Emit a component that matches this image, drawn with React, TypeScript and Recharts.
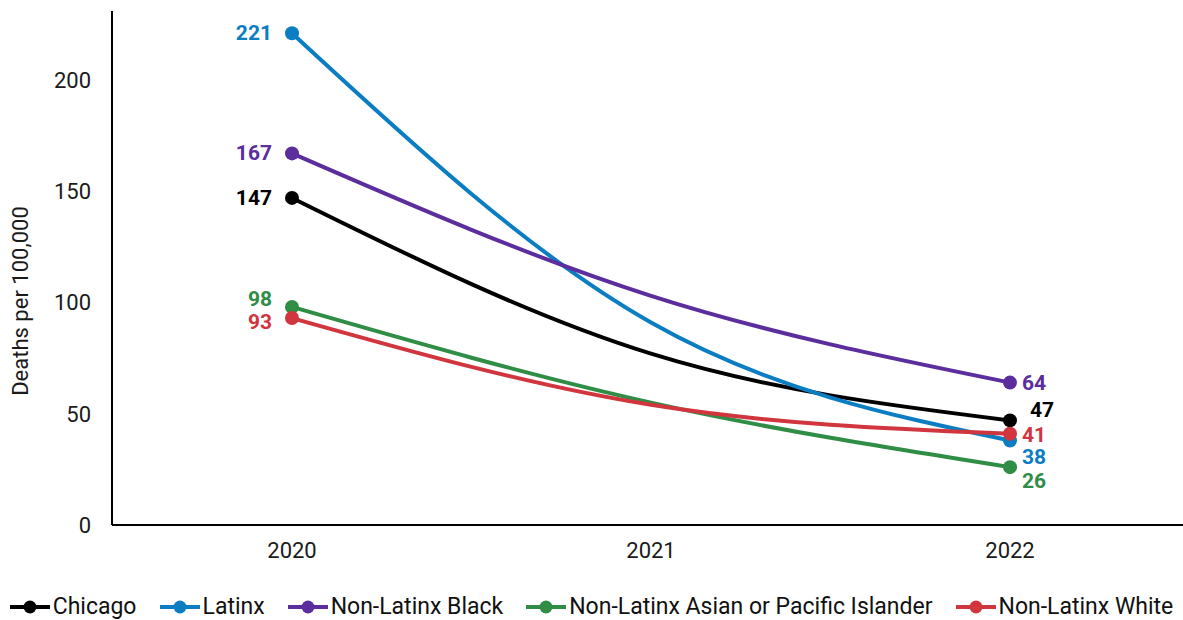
import { LineChart, Line, XAxis, YAxis, Legend, LabelList } from 'recharts'

// values (2021 estimated from the curves)
const years = ['2020', '2021', '2022']
const chicago = [147, 77, 47]
const latinx = [221, 91, 38]
const nlBlack = [167, 103, 64]
const nlAsian = [98, 55, 26]
const nlWhite = [93, 54, 41]

const yTicks = [0, 50, 100, 150, 200]

const FONT = 'Roboto, "Noto Sans", sans-serif'

const series = [
  { key: 'chicago', name: 'Chicago', color: '#000000', values: chicago, dyL: 0, dyR: -10, dxR: 20 },
  { key: 'latinx', name: 'Latinx', color: '#0b7dc2', values: latinx, dyL: 0, dyR: 17, dxR: 12 },
  { key: 'black', name: 'Non-Latinx Black', color: '#5b2d9d', values: nlBlack, dyL: 0, dyR: 0, dxR: 12 },
  { key: 'asian', name: 'Non-Latinx Asian or Pacific Islander', color: '#2f8d45', values: nlAsian, dyL: -8, dyR: 14, dxR: 12 },
  { key: 'white', name: 'Non-Latinx White', color: '#d1363f', values: nlWhite, dyL: 4, dyR: 1, dxR: 12 },
]

const data = years.map((year, i) => {
  const row: Record<string, string | number> = { year }
  series.forEach(s => { row[s.key] = s.values[i] })
  return row
})

function makeLabel(color: string, dyL: number, dyR: number, dxR: number) {
  // eslint-disable-next-line @typescript-eslint/no-explicit-any
  return (props: any) => {
    const { x, y, value, index } = props
    if (index === 1) return null
    const left = index === 0
    return (
      <text
        x={left ? x - 20 : x + dxR}
        y={y + (left ? dyL : dyR)}
        textAnchor={left ? 'end' : 'start'}
        dominantBaseline="central"
        fill={color}
        fontSize={21}
        fontWeight={700}
        fontFamily={FONT}
      >
        {value}
      </text>
    )
  }
}

function LegendRow() {
  return (
    <div style={{ display: 'flex', justifyContent: 'center', gap: 23, fontFamily: FONT, fontSize: 23, color: '#111' }}>
      {series.map(s => (
        <div key={s.key} style={{ display: 'flex', alignItems: 'center' }}>
          <svg width={40} height={16} style={{ marginRight: 3 }}>
            <line x1={0} y1={8} x2={40} y2={8} stroke={s.color} strokeWidth={4} />
            <circle cx={20} cy={8} r={6.5} fill={s.color} />
          </svg>
          <span>{s.name}</span>
        </div>
      ))}
    </div>
  )
}

export default function App() {
  return (
    <div style={{ position: 'absolute', left: 0, top: 0, background: '#fff' }}>
      <LineChart width={1183} height={620} data={data} margin={{ top: 11, right: 0, left: 0, bottom: 0 }}>
        <XAxis
          dataKey="year"
          padding={{ left: 180, right: 173 }}
          tick={{ fill: '#1a1a1a', fontSize: 22, fontFamily: FONT }}
          tickLine={false}
          tickSize={0}
          tickMargin={17}
          axisLine={{ stroke: '#000', strokeWidth: 2 }}
          height={68}
        />
        <YAxis
          domain={[0, 231]}
          ticks={yTicks}
          width={112}
          tick={{ fill: '#1a1a1a', fontSize: 22, fontFamily: FONT }}
          tickLine={false}
          tickSize={0}
          tickMargin={21}
          axisLine={{ stroke: '#000', strokeWidth: 2 }}
          label={{
            value: 'Deaths per 100,000',
            angle: -90,
            position: 'insideLeft',
            offset: 0,
            dx: 20,
            dy: 33,
            style: { textAnchor: 'middle', fill: '#1a1a1a', fontSize: 22, fontFamily: FONT },
          }}
        />
        <Legend verticalAlign="bottom" content={<LegendRow />} wrapperStyle={{ paddingBottom: 0 }} />
        {series.map(s => (
          <Line
            key={s.key}
            type="monotone"
            dataKey={s.key}
            name={s.name}
            stroke={s.color}
            strokeWidth={4}
            dot={(p: any) =>
              p.index === 1 ? <g key={p.index} /> : <circle key={p.index} cx={p.cx} cy={p.cy} r={7} fill={s.color} />
            }
            activeDot={false}
            isAnimationActive={false}
          >
            <LabelList dataKey={s.key} content={makeLabel(s.color, s.dyL, s.dyR, s.dxR)} />
          </Line>
        ))}
      </LineChart>
    </div>
  )
}
